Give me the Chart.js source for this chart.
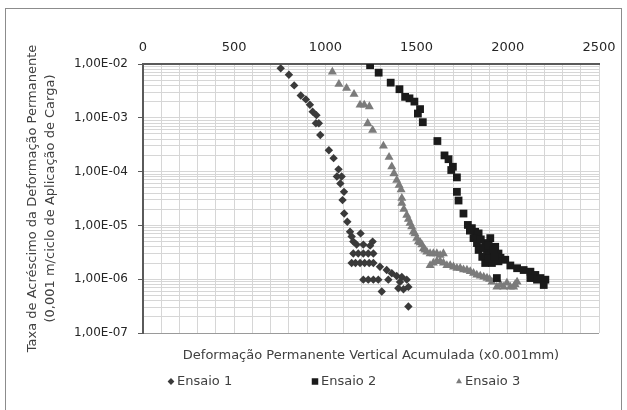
<!DOCTYPE html>
<html>
<head>
<meta charset="utf-8">
<script src="https://cdn.jsdelivr.net/npm/chart.js@4/dist/chart.umd.min.js"></script>
<style>
  html, body { margin: 0; padding: 0; background: #fff; overflow: hidden; }
  #frame {
    position: absolute; left: 5px; top: 8px; width: 615px; height: 420px;
    border: 1px solid #8c8c8c; border-bottom: none;
  }
  #wrap { position: absolute; left: 0; top: 0; width: 627px; height: 410px; }
  #legend {
    position: absolute; left: 166px; top: 373px; display: flex;
    font: 13px "DejaVu Sans", sans-serif; color: #404040;
  }
  #legend .item { width: 144px; display: flex; align-items: center; }
  #legend canvas { margin-right: 1px; }
</style>
</head>
<body>
<div id="frame"></div>
<div id="wrap"><canvas id="taxaChart" width="627" height="410"></canvas></div>
<div id="legend"></div>
<script>
// Ensaio 1: deformação acumulada (x0.001mm) e taxa de acréscimo
var ENSAIO1_X = [755, 800, 829, 865, 893, 915, 930, 951, 948, 964,
                 972, 1019, 1045, 1072, 1063, 1089, 1082, 1102, 1094, 1103,
                 1120, 1135, 1193, 1144, 1153, 1259, 1171, 1208, 1245,
                 1153, 1180, 1208, 1235, 1263,
                 1144, 1165, 1190, 1215, 1240, 1263,
                 1299, 1336, 1364, 1391, 1419,
                 1208, 1235, 1263, 1290,
                 1345, 1409, 1446, 1400, 1428, 1455, 1309, 1455];
var ENSAIO1_Y = [8.3e-3, 6.3e-3, 4.0e-3, 2.6e-3, 2.2e-3, 1.75e-3, 1.3e-3, 1.12e-3, 7.9e-4, 7.9e-4,
                 4.8e-4, 2.5e-4, 1.78e-4, 1.1e-4, 8.1e-5, 8.1e-5, 6.0e-5, 4.2e-5, 2.95e-5, 1.66e-5,
                 1.17e-5, 7.6e-6, 7.1e-6, 6.2e-6, 5.0e-6, 5.0e-6, 4.4e-6, 4.4e-6, 4.2e-6,
                 3.0e-6, 3.0e-6, 3.0e-6, 3.0e-6, 3.0e-6,
                 2.0e-6, 2.0e-6, 2.0e-6, 2.0e-6, 2.0e-6, 2.0e-6,
                 1.7e-6, 1.48e-6, 1.29e-6, 1.15e-6, 1.1e-6,
                 9.8e-7, 9.8e-7, 9.8e-7, 9.8e-7,
                 9.8e-7, 8.9e-7, 9.8e-7, 6.8e-7, 6.5e-7, 7.2e-7, 5.9e-7, 3.1e-7];

// Ensaio 2
var ENSAIO2_X = [1245, 1292, 1358, 1406, 1437, 1461, 1488, 1519, 1507, 1534,
                 1614, 1653, 1675, 1699, 1690, 1721, 1721, 1730, 1757, 1781,
                 1803, 1821, 1840, 1812, 1904, 1831, 1876, 1931, 1840, 1886,
                 1949, 1860, 1900, 1960, 1876, 1913, 1949, 1986, 2014, 2051,
                 2087, 2124, 2151, 2124, 2179, 2206, 2197, 2160, 1940,
                 1792, 1852, 1866, 1895, 1920, 1893, 1928];
var ENSAIO2_Y = [9.5e-3, 6.9e-3, 4.5e-3, 3.4e-3, 2.45e-3, 2.3e-3, 2.0e-3, 1.45e-3, 1.2e-3, 8.3e-4,
                 3.7e-4, 2.0e-4, 1.7e-4, 1.23e-4, 1.07e-4, 7.8e-5, 4.2e-5, 2.9e-5, 1.66e-5, 1.02e-5,
                 8.9e-6, 7.6e-6, 7.1e-6, 5.8e-6, 5.8e-6, 4.7e-6, 4.7e-6, 4.0e-6, 3.5e-6, 3.2e-6,
                 3.0e-6, 2.6e-6, 2.6e-6, 2.5e-6, 2.0e-6, 2.0e-6, 2.15e-6, 2.3e-6, 1.8e-6, 1.6e-6,
                 1.48e-6, 1.38e-6, 1.2e-6, 1.05e-6, 1.05e-6, 9.8e-7, 7.8e-7, 9.8e-7, 1.05e-6,
                 8.0e-6, 5.5e-6, 3.8e-6, 4.2e-6, 3.5e-6, 2.4e-6, 2.6e-6];

// Ensaio 3
var ENSAIO3_X = [1038, 1074, 1116, 1157, 1190, 1213, 1241, 1232, 1259, 1318,
                 1349, 1364, 1376, 1391, 1404, 1415, 1419, 1419, 1430, 1446,
                 1455, 1464, 1473, 1482, 1491, 1501, 1510, 1520, 1529, 1537,
                 1546, 1556, 1574, 1592, 1611, 1629, 1647,
                 1574, 1592, 1611, 1629, 1647, 1666, 1684, 1702, 1721, 1739,
                 1757, 1776, 1794, 1812, 1830, 1849, 1868, 1886, 1900, 1913,
                 1940, 1960, 1977, 1995, 2014, 2032, 2040, 2051];
var ENSAIO3_Y = [7.1e-3, 4.2e-3, 3.55e-3, 2.75e-3, 1.74e-3, 1.74e-3, 1.62e-3, 7.9e-4, 5.9e-4, 3.0e-4,
                 1.86e-4, 1.23e-4, 9.3e-5, 6.9e-5, 5.6e-5, 4.6e-5, 3.2e-5, 2.6e-5, 2.0e-5, 1.55e-5,
                 1.3e-5, 1.1e-5, 9.5e-6, 7.6e-6, 7.0e-6, 5.8e-6, 5.0e-6, 4.8e-6, 4.4e-6, 3.7e-6,
                 3.5e-6, 3.2e-6, 3.0e-6, 3.0e-6, 3.0e-6, 2.8e-6, 3.0e-6,
                 1.8e-6, 2.0e-6, 2.15e-6, 2.15e-6, 2.0e-6, 1.8e-6, 1.8e-6, 1.7e-6, 1.6e-6, 1.6e-6,
                 1.5e-6, 1.48e-6, 1.4e-6, 1.29e-6, 1.2e-6, 1.15e-6, 1.1e-6, 1.05e-6, 1.0e-6, 8.9e-7,
                 7.2e-7, 8.0e-7, 7.2e-7, 8.5e-7, 7.2e-7, 7.2e-7, 8.0e-7, 8.9e-7];

var SERIES_LABELS = ['Ensaio 1', 'Ensaio 2', 'Ensaio 3'];
var X_TICKS = [0, 500, 1000, 1500, 2000, 2500];
var Y_EXPONENTS = [-7, -6, -5, -4, -3, -2];
var Y_TICK_LABELS = ['1,00E-07', '1,00E-06', '1,00E-05', '1,00E-04', '1,00E-03', '1,00E-02'];

var FONT = '"DejaVu Sans", sans-serif';

function toPoints(xs, ys) {
    return xs.map(function (x, i) { return {x: x, y: ys[i]}; });
}

function isDecade(v) {
    var l = Math.log10(v);
    return Math.abs(l - Math.round(l)) < 1e-9;
}

function decadeLabel(v) {
    var i = Y_EXPONENTS.indexOf(Math.round(Math.log10(v)));
    return i >= 0 ? Y_TICK_LABELS[i] : '';
}

var taxaChart = new Chart(document.getElementById('taxaChart'), {
    type: 'scatter',
    data: {
        datasets: [
            {
                label: SERIES_LABELS[0],
                data: toPoints(ENSAIO1_X, ENSAIO1_Y),
                pointStyle: 'rectRot',
                pointRadius: 4.2,
                pointBackgroundColor: '#3a3a3a',
                pointBorderWidth: 0
            },
            {
                label: SERIES_LABELS[1],
                data: toPoints(ENSAIO2_X, ENSAIO2_Y),
                pointStyle: 'rect',
                pointRadius: 5.5,
                pointBackgroundColor: '#1a1a1a',
                pointBorderWidth: 0
            },
            {
                label: SERIES_LABELS[2],
                data: toPoints(ENSAIO3_X, ENSAIO3_Y),
                pointStyle: 'triangle',
                pointRadius: 5.2,
                pointBackgroundColor: '#7b7b7b',
                pointBorderWidth: 0
            }
        ]
    },
    options: {
        responsive: false,
        devicePixelRatio: 1,
        animation: false,
        layout: {padding: {top: 30, left: 0, right: 28, bottom: 45}},
        plugins: {
            legend: {display: false},
            tooltip: {enabled: false}
        },
        scales: {
            x: {
                type: 'linear',
                position: 'top',
                min: 0,
                max: 2500,
                afterFit: function (scale) { scale.height = 34; },
                ticks: {
                    stepSize: 100,
                    autoSkip: false,
                    maxRotation: 0,
                    padding: 9,
                    color: '#262626',
                    font: {family: FONT, size: 13},
                    callback: function (v) { return X_TICKS.indexOf(v) >= 0 ? String(v) : ''; }
                },
                grid: {color: '#d6d6d6', drawTicks: false},
                border: {color: '#5a5a5a', width: 2}
            },
            xTitle: {
                type: 'linear',
                axis: 'x',
                position: 'bottom',
                min: 0,
                max: 2500,
                afterFit: function (scale) { scale.height = 32; },
                ticks: {display: false},
                grid: {display: false},
                border: {display: false},
                title: {
                    display: true,
                    text: 'Deformação Permanente Vertical Acumulada (x0.001mm)',
                    color: '#404040',
                    font: {family: FONT, size: 13},
                    padding: {top: 0, bottom: 2}
                }
            },
            y: {
                type: 'logarithmic',
                position: 'left',
                min: 1e-7,
                max: 1e-2,
                afterFit: function (scale) { scale.width = 143; },
                afterBuildTicks: function (scale) {
                    var ticks = [];
                    for (var e = -7; e < -2; e++) {
                        for (var m = 1; m < 10; m++) {
                            ticks.push({value: m * Math.pow(10, e)});
                        }
                    }
                    ticks.push({value: 1e-2});
                    scale.ticks = ticks;
                },
                ticks: {
                    autoSkip: false,
                    padding: 10,
                    color: '#262626',
                    font: {family: FONT, size: 12},
                    callback: function (v) { return isDecade(v) ? decadeLabel(v) : ''; }
                },
                grid: {
                    tickLength: 5,
                    color: function (ctx) {
                        return ctx.tick && ctx.tick.value <= 1.0000001e-7 ? '#9a9a9a' : '#d6d6d6';
                    },
                    tickColor: function (ctx) {
                        return ctx.tick && isDecade(ctx.tick.value) ? '#5a5a5a' : 'rgba(0,0,0,0)';
                    }
                },
                border: {color: '#5a5a5a', width: 2},
                title: {
                    display: true,
                    text: ['Taxa de Acréscimo da Deformação Permanente',
                           '(0,001 m/ciclo de Aplicação de Carga)'],
                    color: '#404040',
                    font: {family: FONT, size: 13, lineHeight: 1.35},
                    padding: {top: 24, bottom: 0}
                }
            }
        }
    }
});

// legend row under the axis title, markers drawn with the chart's own point helper
function buildLegend(chart) {
    var box = document.getElementById('legend');
    chart.data.datasets.forEach(function (ds) {
        var item = document.createElement('div');
        item.className = 'item';
        var c = document.createElement('canvas');
        c.width = 10;
        c.height = 10;
        var ctx = c.getContext('2d');
        ctx.fillStyle = ds.pointBackgroundColor;
        if (Chart.helpers && Chart.helpers.drawPoint) {
            Chart.helpers.drawPoint(ctx, {
                pointStyle: ds.pointStyle,
                radius: ds.pointStyle === 'rect' ? 4.6 : 3.4,
                rotation: 0,
                borderWidth: 0
            }, 5, 5.5);
        }
        var span = document.createElement('span');
        span.textContent = ds.label;
        item.appendChild(c);
        item.appendChild(span);
        box.appendChild(item);
    });
}
buildLegend(taxaChart);
</script>
</body>
</html>
